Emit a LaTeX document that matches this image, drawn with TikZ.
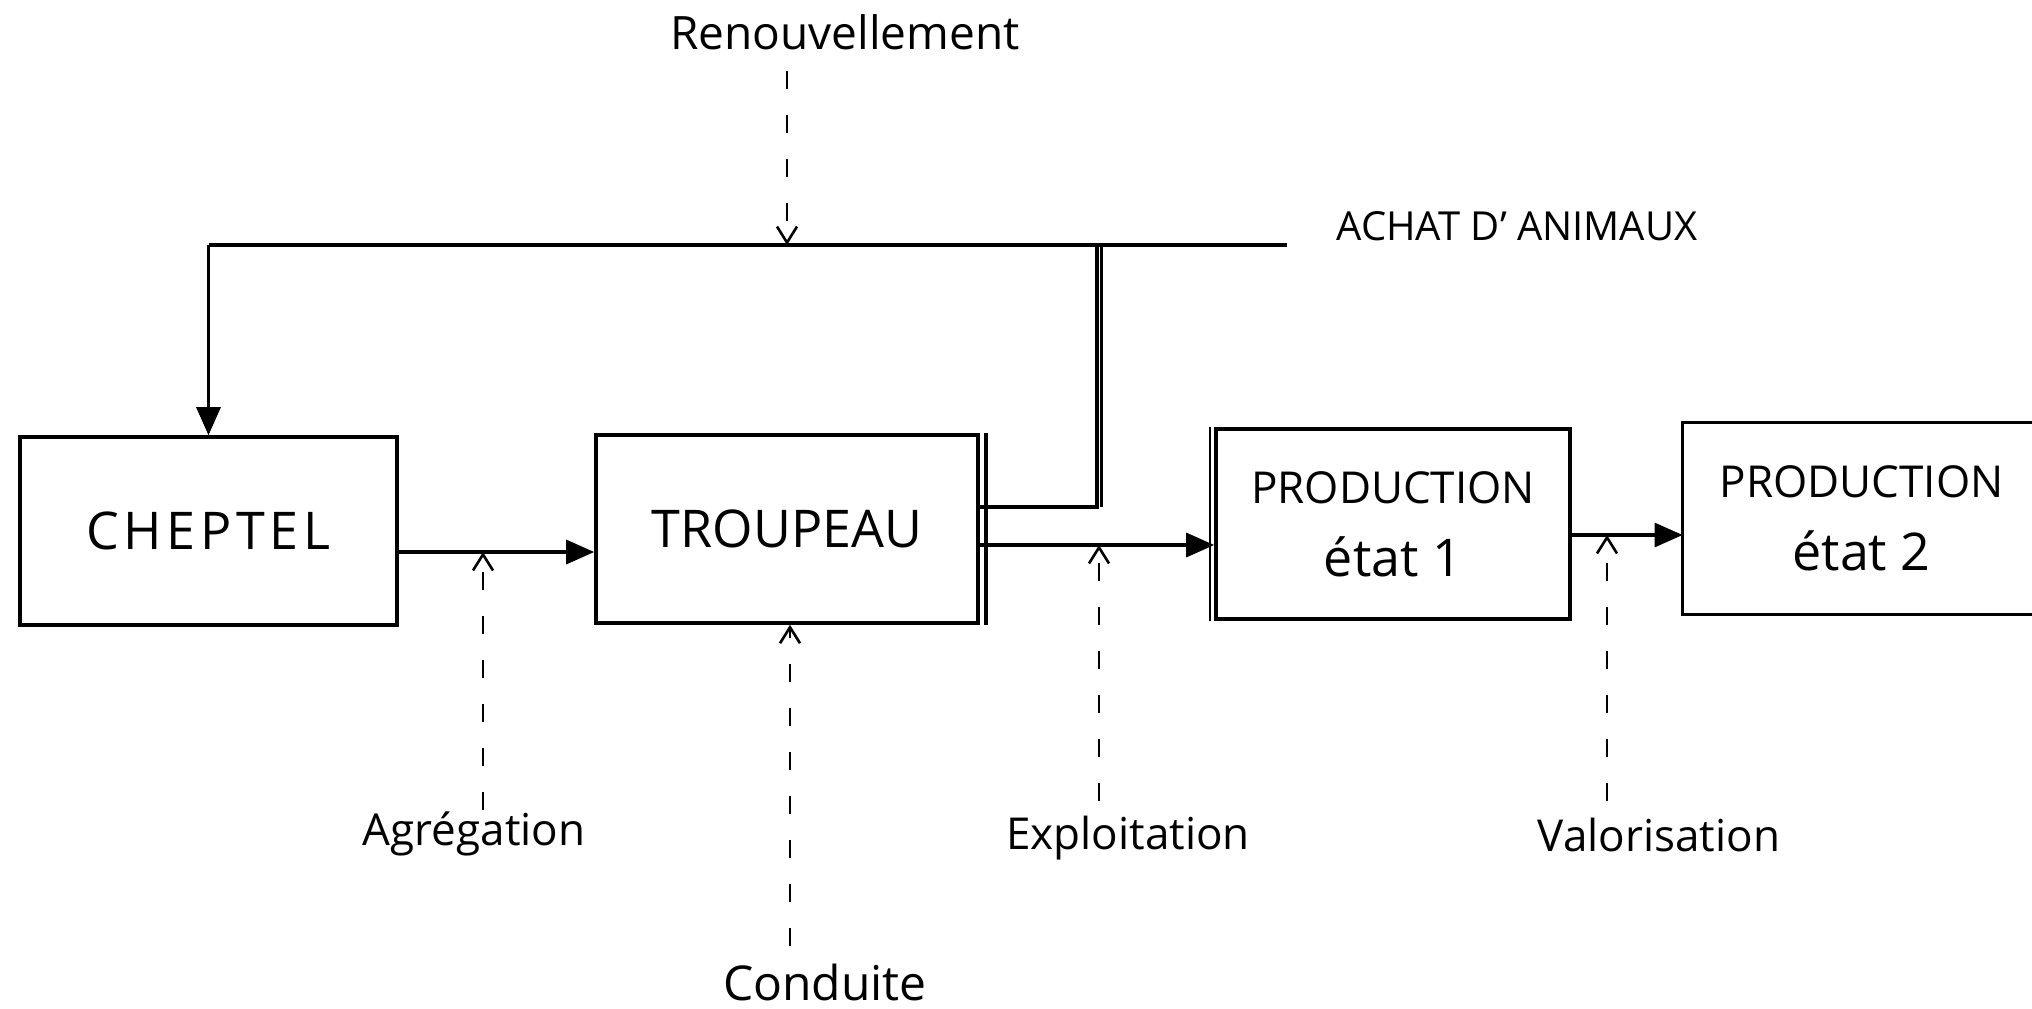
\documentclass[tikz,border=0pt]{standalone}
\usepackage{fontspec}
\setmainfont{Open Sans}
\usetikzlibrary{arrows.meta,calc}
\tikzset{
  boxnode/.style={draw,line width=1.8pt,inner sep=0pt,align=center},
  conn/.style={line width=1.6pt},
  solidarr/.style={conn,-{Triangle[length=14pt,width=12pt]}},
  dasharr/.style={line width=1.3pt,dash pattern=on 9pt off 13pt,-{Straight Barb[length=8pt,width=10pt,line width=1.3pt]}},
  lbl/.style={font=\fontsize{22}{26}\selectfont,inner sep=0pt,anchor=base}
}
\begin{document}
\begin{tikzpicture}[x=0.5pt,y=-0.5pt]
\useasboundingbox (0,0) rectangle (2032,1008);
% boxes
\node[boxnode,minimum width=188.5pt,minimum height=94pt,font=\fontsize{26}{30}\selectfont\addfontfeature{LetterSpace=9}] (cheptel) at (208.5,531) {CHEPTEL};
\node[boxnode,minimum width=191pt,minimum height=94pt,font=\fontsize{26}{30}\selectfont] (troupeau) at (787,529) {TROUPEAU};
\draw[line width=1.8pt] ([xshift=3.2pt]troupeau.north east) -- ([xshift=3.2pt]troupeau.south east);
\node[boxnode,minimum width=177pt,minimum height=95pt,font=\fontsize{22}{36.5}\selectfont] (p1) at (1393,524) {PRODUCTION\\{\fontsize{26}{36.5}\selectfont état 1}};
\draw[line width=1.2pt] ([xshift=-2.2pt]p1.north west) -- ([xshift=-2.2pt]p1.south west);
\node[inner sep=0pt,minimum width=178.5pt,minimum height=95.5pt,align=center,font=\fontsize{22}{36.5}\selectfont] (p2) at (1861.5,518.5) {PRODUCTION\\{\fontsize{26}{36.5}\selectfont état 2}};
\draw[line width=1.8pt] (p2.north east) -- (p2.north west) -- (p2.south west) -- (p2.south east);
% main flow
\draw[solidarr] ([yshift=-10.5pt]cheptel.east) coordinate (c1) -- (c1 -| troupeau.west);
\draw[solidarr] ([yshift=-8pt]troupeau.east) coordinate (c2) -- (c2 -| p1.west);
\draw[solidarr] ([yshift=-5.5pt]p1.east) coordinate (c3) -- (c3 -| p2.west);
% top loop
\coordinate (achat) at (1287,245);
\coordinate (junc) at (1097,245);
\draw[conn] ([yshift=11pt]troupeau.east) coordinate (c4) -- (c4 -| junc) -- (junc);
\draw[conn] ([xshift=2.4pt]c4 -| junc) -- ([xshift=2.4pt]junc);
\draw[conn] (achat) -- (achat -| cheptel.north) coordinate (tl);
\draw[solidarr] (tl) -- (cheptel.north);
\node[inner sep=0pt,anchor=base,font=\fontsize{20}{24}\selectfont] (achatlbl) at (1517,240) {ACHAT D' ANIMAUX};
% labels
\node[lbl,font=\fontsize{23}{27}\selectfont] (renouv) at (845,49) {Renouvellement};
\node[lbl] (agreg) at (474,845) {Agrégation};
\node[lbl,font=\fontsize{24}{28}\selectfont] (cond) at (825,1000) {Conduite};
\node[lbl] (explo) at (1128,849) {Exploitation};
\node[lbl] (valo) at (1659,851) {Valorisation};
% dashed arrows
\coordinate (rn) at (787,245);
\draw[dasharr] (rn |- 0,71) -- (rn);
\coordinate (ag) at (483,810);
\draw[dasharr] (ag) -- (ag |- c1);
\coordinate (co) at (790,946);
\draw[dasharr] (co) -- (co |- troupeau.south);
\coordinate (ex) at (1099,801);
\draw[dasharr] (ex) -- (ex |- c2);
\coordinate (va) at (1607,801);
\draw[dasharr] (va) -- (va |- c3);
\end{tikzpicture}
\end{document}
